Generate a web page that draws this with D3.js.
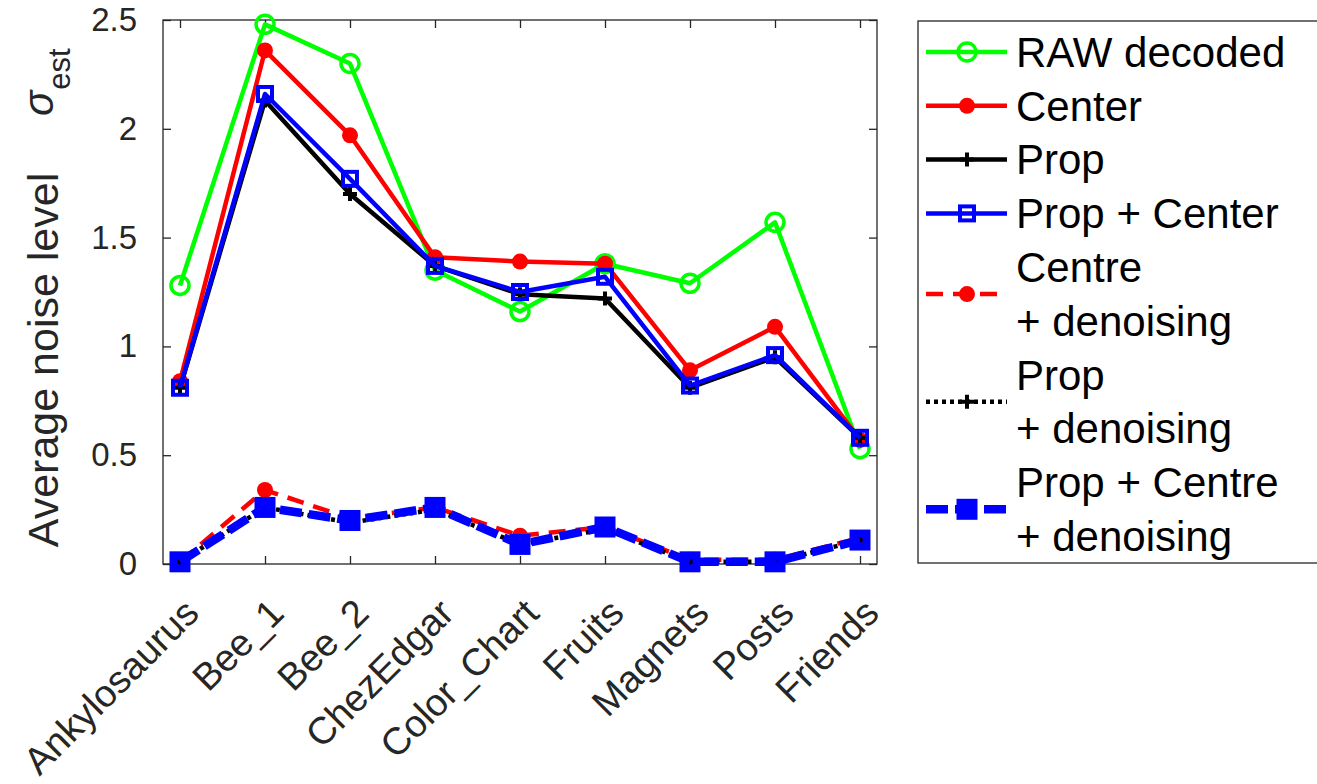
<!DOCTYPE html>
<html>
<head>
<meta charset="utf-8">
<script src="https://cdn.jsdelivr.net/npm/d3@7"></script>
<style>
  body { margin: 0; background: #fff; }
  svg { font-family: "Liberation Sans", Arial, sans-serif; }
</style>
</head>
<body>
<svg width="1317" height="784"></svg>
<script>
const categories = ['Ankylosaurus', 'Bee_1', 'Bee_2', 'ChezEdgar', 'Color_Chart', 'Fruits', 'Magnets', 'Posts', 'Friends'];

const rawDecoded    = [1.28, 2.48, 2.30, 1.35, 1.16, 1.38, 1.29, 1.57, 0.53];
const center        = [0.84, 2.36, 1.97, 1.41, 1.39, 1.38, 0.89, 1.09, 0.57];
const prop          = [0.81, 2.13, 1.70, 1.37, 1.24, 1.22, 0.81, 0.95, 0.58];
const propCenter    = [0.81, 2.16, 1.77, 1.37, 1.25, 1.32, 0.82, 0.96, 0.58];
const centreDen     = [0.01, 0.34, 0.21, 0.26, 0.13, 0.17, 0.02, 0.02, 0.12];
const propDen       = [0.01, 0.26, 0.19, 0.25, 0.09, 0.16, 0.01, 0.01, 0.11];
const propCentreDen = [0.01, 0.26, 0.20, 0.26, 0.09, 0.17, 0.01, 0.01, 0.11];

const yTicks = [0, 0.5, 1, 1.5, 2, 2.5];

const series = [
  { name: ['RAW decoded'], values: rawDecoded, color: '#00ff00', dash: null, width: 4.5, marker: 'circle' },
  { name: ['Center'], values: center, color: '#ff0000', dash: null, width: 4.5, marker: 'dot' },
  { name: ['Prop'], values: prop, color: '#000000', dash: null, width: 4.5, marker: 'plus' },
  { name: ['Prop + Center'], values: propCenter, color: '#0000ff', dash: null, width: 4.5, marker: 'square' },
  { name: ['Centre', '+ denoising'], values: centreDen, color: '#ff0000', dash: '17,10', width: 4.5, marker: 'dot' },
  { name: ['Prop', '+ denoising'], values: propDen, color: '#000000', dash: '4,4', width: 4.5, marker: 'plus' },
  { name: ['Prop + Centre', '+ denoising'], values: propCentreDen, color: '#0000ff', dash: '22,7', width: 8.5, marker: 'bigsquare' },
];

const svg = d3.select('svg');
const axisColor = '#262626';

const x = d3.scaleLinear().domain([-0.2, 8.2]).range([163, 877]);
const y = d3.scaleLinear().domain([0, 2.5]).range([564, 20]);

// markers
function drawMarker(g, type, color) {
  if (type === 'circle') {
    g.append('circle').attr('r', 9).attr('fill', 'none').attr('stroke', color).attr('stroke-width', 3.5);
  } else if (type === 'dot') {
    g.append('circle').attr('r', 8).attr('fill', color);
  } else if (type === 'plus') {
    g.append('path').attr('d', 'M-7,0H7M0,-7V7').attr('stroke', color).attr('stroke-width', 4);
  } else if (type === 'square') {
    g.append('rect').attr('x', -7).attr('y', -7).attr('width', 14).attr('height', 14)
      .attr('fill', 'none').attr('stroke', color).attr('stroke-width', 4);
  } else if (type === 'bigsquare') {
    g.append('rect').attr('x', -6.5).attr('y', -6.5).attr('width', 13).attr('height', 13)
      .attr('fill', 'none').attr('stroke', color).attr('stroke-width', 8);
  }
}

// axes box
svg.append('rect')
  .attr('x', x.range()[0]).attr('y', y.range()[1])
  .attr('width', x.range()[1] - x.range()[0]).attr('height', y.range()[0] - y.range()[1])
  .attr('fill', 'none').attr('stroke', axisColor).attr('stroke-width', 1.3);

const idx = d3.range(categories.length);

const yAxis = svg.append('g')
  .attr('transform', `translate(${x.range()[0]},0)`)
  .call(d3.axisLeft(y).tickValues(yTicks).tickFormat(d3.format('')).tickSize(-8).tickSizeOuter(0).tickPadding(26));
svg.append('g')
  .attr('transform', `translate(${x.range()[1]},0)`)
  .call(d3.axisRight(y).tickValues(yTicks).tickSize(-8).tickSizeOuter(0).tickFormat(''));

const xAxis = svg.append('g')
  .attr('transform', `translate(0,${y.range()[0]})`)
  .call(d3.axisBottom(x).tickValues(idx).tickSize(-8).tickSizeOuter(0).tickFormat(i => categories[i]));
svg.append('g')
  .attr('transform', `translate(0,${y.range()[1]})`)
  .call(d3.axisTop(x).tickValues(idx).tickSize(-8).tickSizeOuter(0).tickFormat(''));

svg.selectAll('.domain').remove();
svg.selectAll('.tick line').attr('stroke', axisColor).attr('stroke-width', 1.3);

yAxis.selectAll('text')
  .attr('font-size', 33).attr('fill', axisColor)
  .attr('font-family', '"Liberation Sans", Arial, sans-serif');

xAxis.selectAll('text')
  .attr('font-size', 38).attr('fill', axisColor)
  .attr('font-family', '"Liberation Sans", Arial, sans-serif')
  .attr('text-anchor', 'end')
  .attr('x', 0).attr('y', 0).attr('dy', '0.35em')
  .attr('transform', 'translate(11,42) rotate(-45)');

// y label
svg.append('text')
  .attr('transform', 'translate(58,360) rotate(-90)')
  .attr('text-anchor', 'middle')
  .attr('font-size', 43).attr('fill', axisColor)
  .text('Average noise level');

const sig = svg.append('text')
  .attr('transform', 'translate(53,116) rotate(-90)')
  .attr('font-size', 42).attr('fill', axisColor);
sig.append('tspan').attr('font-style', 'italic').text('σ');
sig.append('tspan').attr('font-size', 31).attr('dy', 17).attr('dx', 1).text('est');

// lines
const line = d3.line().x((d, i) => x(i)).y(d => y(d));

series.forEach(s => {
  const g = svg.append('g');
  g.append('path')
    .attr('d', line(s.values))
    .attr('fill', 'none')
    .attr('stroke', s.color)
    .attr('stroke-width', s.width)
    .attr('stroke-linejoin', 'round')
    .attr('stroke-dasharray', s.dash);
  s.values.forEach((v, i) => {
    const m = g.append('g').attr('transform', `translate(${x(i)},${y(v)})`);
    drawMarker(m, s.marker, s.color);
  });
});

// legend
const lg = svg.append('g');
lg.append('rect')
  .attr('x', 918).attr('y', 21).attr('width', 420).attr('height', 542)
  .attr('fill', '#fff').attr('stroke', axisColor).attr('stroke-width', 1.3);

const rowH = 53.8;
let row = 0;
series.forEach(s => {
  const n = s.name.length;
  const cy = 52 + (row + (n - 1) / 2) * rowH;
  const g = lg.append('g');
  g.append('path')
    .attr('d', `M926,${cy}H1007`)
    .attr('stroke', s.color)
    .attr('stroke-width', s.width)
    .attr('stroke-dasharray', s.dash);
  drawMarker(g.append('g').attr('transform', `translate(967,${cy})`), s.marker, s.color);
  s.name.forEach((t, k) => {
    g.append('text')
      .attr('x', 1016).attr('y', 52 + (row + k) * rowH)
      .attr('dy', '0.35em')
      .attr('font-size', 42).attr('fill', '#000')
      .text(t);
  });
  row += n;
});
</script>
</body>
</html>
